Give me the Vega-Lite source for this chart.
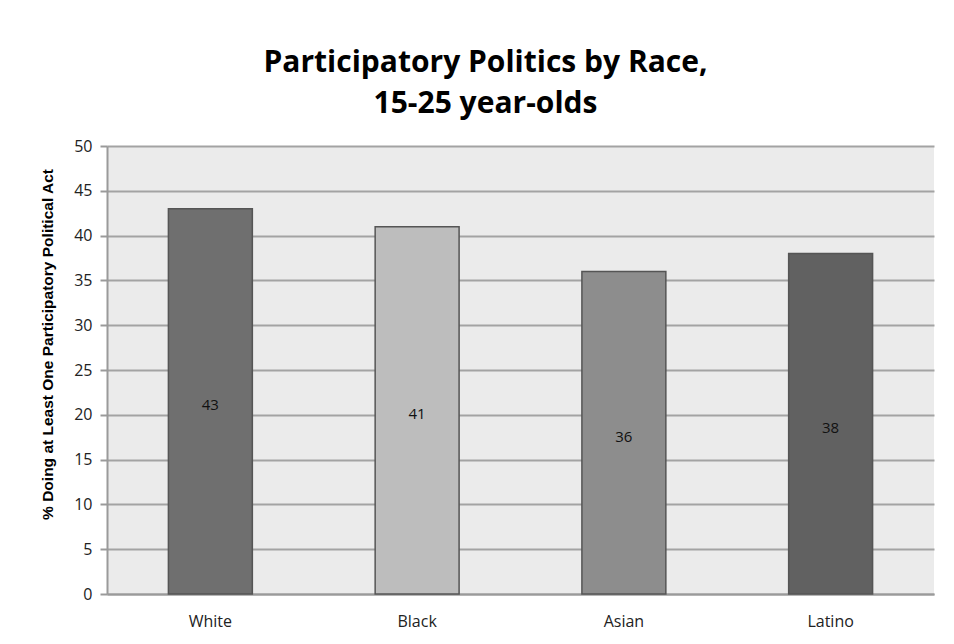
{
  "$schema": "https://vega.github.io/schema/vega-lite/v6.json",
  "width": 827,
  "height": 448,
  "autosize": {"type": "none"},
  "padding": {"left": 107, "top": 146, "right": 20, "bottom": 50},
  "background": "white",
  "title": {
    "text": ["Participatory Politics by Race,", "15-25 year-olds"],
    "font": "Open Sans",
    "fontSize": 30,
    "fontWeight": "bold",
    "color": "#000000",
    "lineHeight": 41,
    "anchor": "middle",
    "dx": -35,
    "offset": 19
  },
  "config": {
    "view": {"fill": "#ebebeb", "stroke": null},
    "font": "Open Sans"
  },
  "data": {
    "values": [
      {"race": "White", "value": 43},
      {"race": "Black", "value": 41},
      {"race": "Asian", "value": 36},
      {"race": "Latino", "value": 38}
    ]
  },
  "encoding": {
    "x": {
      "field": "race",
      "type": "nominal",
      "sort": null,
      "scale": {"paddingInner": 0.594, "paddingOuter": 0.297},
      "axis": {
        "title": null,
        "labelAngle": 0,
        "labelFont": "Open Sans",
        "labelFontSize": 16,
        "labelColor": "#222222",
        "labelPadding": 19,
        "ticks": false,
        "domainColor": "#9a9a9a",
        "domainWidth": 2
      }
    }
  },
  "layer": [
    {
      "mark": {"type": "bar", "stroke": "#555555", "strokeWidth": 1.5},
      "encoding": {
        "y": {
          "field": "value",
          "type": "quantitative",
          "scale": {"domain": [0, 50]},
          "axis": {
            "title": "% Doing at Least One Participatory Political Act",
            "titleFont": "Liberation Sans",
            "titleFontSize": 15.5,
            "titleFontWeight": "bold",
            "titleColor": "#000000",
            "titleAngle": 270,
            "titleX": -60,
            "titleY": 198,
            "titleAlign": "center",
            "titleBaseline": "middle",
            "values": [0, 5, 10, 15, 20, 25, 30, 35, 40, 45, 50],
            "labelFont": "Open Sans",
            "labelFontSize": 16,
            "labelColor": "#222222",
            "labelPadding": 8,
            "tickSize": 7,
            "tickColor": "#9a9a9a",
            "tickWidth": 2,
            "domainColor": "#9a9a9a",
            "domainWidth": 2,
            "grid": true,
            "gridColor": "#a3a3a3",
            "gridWidth": 2
          }
        },
        "color": {
          "field": "race",
          "type": "nominal",
          "legend": null,
          "scale": {
            "domain": ["White", "Black", "Asian", "Latino"],
            "range": ["#6f6f6f", "#bdbdbd", "#8d8d8d", "#616161"]
          }
        }
      }
    },
    {
      "transform": [{"calculate": "datum.value / 2", "as": "mid"}],
      "mark": {"type": "text", "font": "Open Sans", "fontSize": 15, "color": "#111111", "dy": 4},
      "encoding": {
        "y": {"field": "mid", "type": "quantitative"},
        "text": {"field": "value", "type": "quantitative"}
      }
    }
  ]
}
